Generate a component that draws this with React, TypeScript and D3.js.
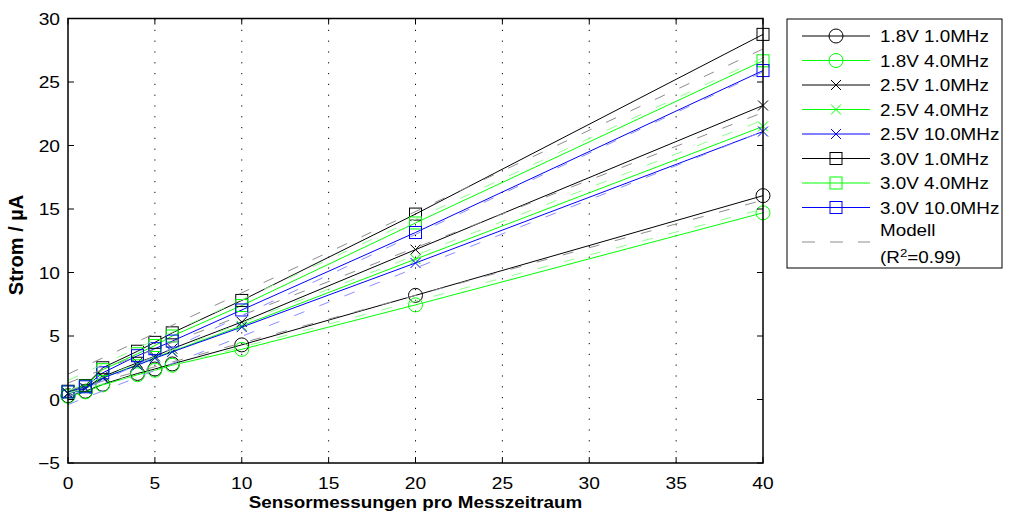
import React from "react";
import * as d3 from "d3";

const xValues = [0, 1, 2, 4, 5, 6, 10, 20, 40];

const s18_1 = [0.3, 0.65, 1.2, 2.05, 2.4, 2.8, 4.3, 8.2, 16.05];
const s18_4 = [0.25, 0.6, 1.15, 1.95, 2.3, 2.7, 3.95, 7.45, 14.7];
const s25_1 = [0.5, 0.9, 1.8, 2.9, 3.4, 4.0, 6.1, 11.8, 23.15];
const s25_4 = [0.45, 0.85, 1.7, 2.75, 3.3, 3.8, 5.8, 11.05, 21.5];
const s25_10 = [0.45, 0.85, 1.7, 2.7, 3.25, 3.75, 5.7, 10.75, 21.1];
const s30_1 = [0.65, 1.1, 2.5, 3.8, 4.5, 5.25, 7.8, 14.6, 28.75];
const s30_4 = [0.6, 1.05, 2.35, 3.6, 4.25, 5.0, 7.4, 13.9, 26.67];
const s30_10 = [0.6, 1.0, 2.1, 3.45, 4.0, 4.6, 7.05, 13.15, 25.9];

const seriesLabels = [
  "1.8V 1.0MHz",
  "1.8V 4.0MHz",
  "2.5V 1.0MHz",
  "2.5V 4.0MHz",
  "2.5V 10.0MHz",
  "3.0V 1.0MHz",
  "3.0V 4.0MHz",
  "3.0V 10.0MHz",
];
const seriesValues = [s18_1, s18_4, s25_1, s25_4, s25_10, s30_1, s30_4, s30_10];
const seriesMarkers = ["circle", "circle", "x", "x", "x", "square", "square", "square"];
const seriesColors = ["#000000", "#00ff00", "#000000", "#00ff00", "#0000ff", "#000000", "#00ff00", "#0000ff"];
const modelColors = ["#8c8c8c", "#8cff8c", "#8c8c8c", "#8cff8c", "#8c8cff", "#8c8c8c", "#8cff8c", "#8c8cff"];

// model line endpoints (at x = 0 and x = 40)
const modelX = [0, 40];
const modelAt0 = [0.7, 0.5, 1.3, 0.7, -0.4, 2.0, 1.5, 0.2];
const modelAt40 = [15.7, 15.0, 22.6, 22.0, 21.1, 27.6, 26.9, 25.8];

const xTicks = [0, 5, 10, 15, 20, 25, 30, 35, 40];
const yTicks = [-5, 0, 5, 10, 15, 20, 25, 30];

const W = 1009;
const H = 519;
const L = 68, R = 763, T = 18.5, B = 463;
const FONT = "'Liberation Sans', Arial, Helvetica, sans-serif";
const SX = 1.2;

function Marker({ type, x, y, color }: { type: string; x: number; y: number; color: string }) {
  if (type === "circle") return <circle cx={x} cy={y} r={7} fill="none" stroke={color} strokeWidth={1} />;
  if (type === "square") return <rect x={x - 6} y={y - 6} width={12} height={12} fill="none" stroke={color} strokeWidth={1} />;
  const d = 5;
  return (
    <path d={`M${x - d},${y - d}L${x + d},${y + d}M${x - d},${y + d}L${x + d},${y - d}`} stroke={color} strokeWidth={1} fill="none" />
  );
}

function SText({ x, y, anchor, size, bold, children, sx = SX }: any) {
  return (
    <text
      transform={`translate(${x},${y}) scale(${sx},1)`}
      textAnchor={anchor}
      fontSize={size}
      fontWeight={bold ? "bold" : "normal"}
      fontFamily={FONT}
      fill="#000"
    >
      {children}
    </text>
  );
}

export default function App() {
  const x = d3.scaleLinear().domain([0, 40]).range([L, R]);
  const y = d3.scaleLinear().domain([-5, 30]).range([B, T]);
  const line = d3
    .line<[number, number]>()
    .x((d) => x(d[0]))
    .y((d) => y(d[1]));

  const legX0 = 787, legY0 = 19, legX1 = 1002, legY1 = 268;
  const rowY = (i: number) => 36 + i * 24.5;

  return (
    <svg width={W} height={H} style={{ position: "absolute", left: 0, top: 0, background: "#fff" }}>
      <rect x={0} y={0} width={W} height={H} fill="#fff" />
      {/* grid */}
      {xTicks.filter((t) => t > 0 && t < 40).map((t) => (
        <line key={"g" + t} x1={x(t)} x2={x(t)} y1={B} y2={T} stroke="#000" strokeWidth={1} strokeDasharray="1.2,9.6" />
      ))}
      {/* series lines */}
      {seriesValues.map((vals, i) => (
        <path
          key={"l" + i}
          d={line(vals.map((v, j) => [xValues[j], v]) as [number, number][]) || ""}
          fill="none"
          stroke={seriesColors[i]}
          strokeWidth={1}
        />
      ))}
      {/* markers */}
      {seriesValues.map((vals, i) =>
        vals.map((v, j) => (
          <Marker key={"m" + i + "_" + j} type={seriesMarkers[i]} x={x(xValues[j])} y={y(v)} color={seriesColors[i]} />
        ))
      )}
      {/* model lines */}
      {modelAt0.map((a, i) => (
        <path
          key={"mod" + i}
          d={line([[modelX[0], a], [modelX[1], modelAt40[i]]]) || ""}
          fill="none"
          stroke={modelColors[i]}
          strokeWidth={1}
          strokeDasharray="11,16"
        />
      ))}
      {/* axes box */}
      <rect x={L} y={T} width={R - L} height={B - T} fill="none" stroke="#000" strokeWidth={1.5} />
      {xTicks.map((t) => (
        <g key={"xt" + t}>
          <line x1={x(t)} x2={x(t)} y1={B} y2={B - 6} stroke="#000" strokeWidth={1} />
          <line x1={x(t)} x2={x(t)} y1={T} y2={T + 6} stroke="#000" strokeWidth={1} />
          <SText x={x(t)} y={489} anchor="middle" size={16}>{t}</SText>
        </g>
      ))}
      {yTicks.map((t) => (
        <g key={"yt" + t}>
          <line x1={L} x2={L + 6} y1={y(t)} y2={y(t)} stroke="#000" strokeWidth={1} />
          <line x1={R} x2={R - 6} y1={y(t)} y2={y(t)} stroke="#000" strokeWidth={1} />
          <SText x={60} y={y(t) + 6} anchor="end" size={16}>{t < 0 ? "\u2212" + Math.abs(t) : t}</SText>
        </g>
      ))}
      <SText x={(L + R) / 2} y={508} anchor="middle" size={16.5} bold sx={1.14}>
        Sensormessungen pro Messzeitraum
      </SText>
      <text
        transform={`translate(23,245) rotate(-90)`}
        textAnchor="middle"
        fontSize={20}
        fontWeight="bold"
        fontFamily={FONT}
      >
        Strom / µA
      </text>
      {/* legend */}
      <rect x={legX0} y={legY0} width={legX1 - legX0} height={legY1 - legY0} fill="#fff" stroke="#000" strokeWidth={1} />
      {seriesLabels.map((lab, i) => (
        <g key={"leg" + i}>
          <line x1={802} x2={870} y1={rowY(i)} y2={rowY(i)} stroke={seriesColors[i]} strokeWidth={1} />
          <Marker type={seriesMarkers[i]} x={836} y={rowY(i)} color={seriesColors[i]} />
          <SText x={880} y={rowY(i) + 6} anchor="start" size={15.7}>{lab}</SText>
        </g>
      ))}
      <line x1={802} x2={870} y1={242} y2={242} stroke="#8c8c8c" strokeWidth={1} strokeDasharray="13,15" />
      <SText x={880} y={236} anchor="start" size={15.7}>Modell</SText>
      <text transform={`translate(880,263) scale(${SX},1)`} fontSize={15.7} fontFamily={FONT}>
        (R
        <tspan dy={-6} fontSize={11}>2</tspan>
        <tspan dy={6}>=0.99)</tspan>
      </text>
    </svg>
  );
}
